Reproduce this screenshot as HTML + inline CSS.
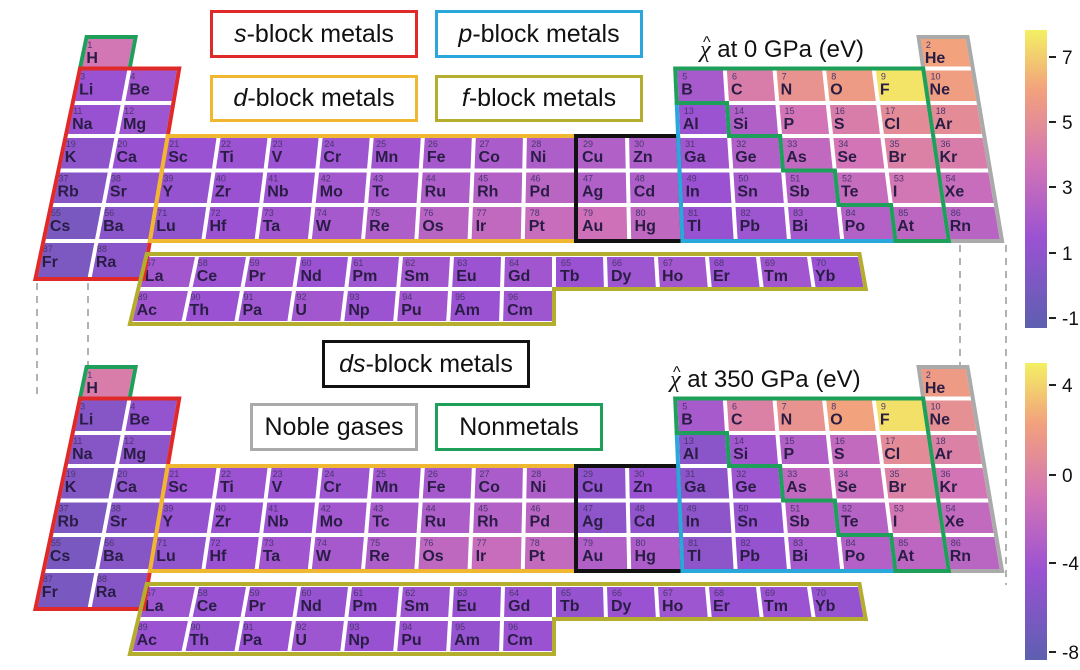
<!DOCTYPE html>
<html><head><meta charset="utf-8">
<style>
body{margin:0;background:#fff;width:1080px;height:670px;overflow:hidden;font-family:"Liberation Sans",sans-serif;}
.lg{position:absolute;box-sizing:border-box;border:3px solid;background:#fff;font-size:25px;color:#111;display:flex;align-items:center;justify-content:center;white-space:nowrap;}
.lg i{font-style:italic}
svg{position:absolute;left:0;top:0}
</style></head><body>
<svg id="s" width="1080" height="670" xmlns="http://www.w3.org/2000/svg"></svg>
<div class="lg" style="left:210px;top:10px;width:208px;height:48px;border-color:#e02a2a"><span><i>s</i>-block metals</span></div>
<div class="lg" style="left:435px;top:10px;width:208px;height:48px;border-color:#2aa8dc"><span><i>p</i>-block metals</span></div>
<div class="lg" style="left:210px;top:75px;width:208px;height:47px;border-color:#f0b830"><span><i>d</i>-block metals</span></div>
<div class="lg" style="left:435px;top:75px;width:208px;height:47px;border-color:#b4ad2e"><span><i>f</i>-block metals</span></div>
<div class="lg" style="left:322px;top:340px;width:208px;height:48px;border-color:#111"><span><i>ds</i>-block metals</span></div>
<div class="lg" style="left:250px;top:403px;width:168px;height:48px;border-color:#aaa"><span>Noble gases</span></div>
<div class="lg" style="left:435px;top:403px;width:168px;height:48px;border-color:#1fa05a"><span>Nonmetals</span></div>
<script>
const S=document.getElementById('s');let h='';
h+='<defs><linearGradient id="cb" x1="0" y1="1" x2="0" y2="0"><stop offset="0" stop-color="#5d5fb0"/><stop offset="0.3" stop-color="#9a52d2"/><stop offset="0.55" stop-color="#d274b6"/><stop offset="0.8" stop-color="#f2a27c"/><stop offset="1" stop-color="#f3f064"/></linearGradient></defs>';
const stops=[[0,[93,95,176]],[0.3,[154,82,210]],[0.55,[210,116,182]],[0.8,[242,162,124]],[1,[243,240,100]]];
function col(v){for(let i=0;i<stops.length-1;i++){const a=stops[i],b=stops[i+1];if(v<=b[0]){const t=(v-a[0])/(b[0]-a[0]);return 'rgb('+a[1].map((x,j)=>Math.round(x+(b[1][j]-x)*t)).join(',')+')';}}return 'rgb(243,240,100)';}
const main=[
[1,1,1,'H'],[2,1,18,'He'],
[3,2,1,'Li'],[4,2,2,'Be'],[5,2,13,'B'],[6,2,14,'C'],[7,2,15,'N'],[8,2,16,'O'],[9,2,17,'F'],[10,2,18,'Ne'],
[11,3,1,'Na'],[12,3,2,'Mg'],[13,3,13,'Al'],[14,3,14,'Si'],[15,3,15,'P'],[16,3,16,'S'],[17,3,17,'Cl'],[18,3,18,'Ar'],
[19,4,1,'K'],[20,4,2,'Ca'],[21,4,3,'Sc'],[22,4,4,'Ti'],[23,4,5,'V'],[24,4,6,'Cr'],[25,4,7,'Mn'],[26,4,8,'Fe'],[27,4,9,'Co'],[28,4,10,'Ni'],[29,4,11,'Cu'],[30,4,12,'Zn'],[31,4,13,'Ga'],[32,4,14,'Ge'],[33,4,15,'As'],[34,4,16,'Se'],[35,4,17,'Br'],[36,4,18,'Kr'],
[37,5,1,'Rb'],[38,5,2,'Sr'],[39,5,3,'Y'],[40,5,4,'Zr'],[41,5,5,'Nb'],[42,5,6,'Mo'],[43,5,7,'Tc'],[44,5,8,'Ru'],[45,5,9,'Rh'],[46,5,10,'Pd'],[47,5,11,'Ag'],[48,5,12,'Cd'],[49,5,13,'In'],[50,5,14,'Sn'],[51,5,15,'Sb'],[52,5,16,'Te'],[53,5,17,'I'],[54,5,18,'Xe'],
[55,6,1,'Cs'],[56,6,2,'Ba'],[71,6,3,'Lu'],[72,6,4,'Hf'],[73,6,5,'Ta'],[74,6,6,'W'],[75,6,7,'Re'],[76,6,8,'Os'],[77,6,9,'Ir'],[78,6,10,'Pt'],[79,6,11,'Au'],[80,6,12,'Hg'],[81,6,13,'Tl'],[82,6,14,'Pb'],[83,6,15,'Bi'],[84,6,16,'Po'],[85,6,17,'At'],[86,6,18,'Rn'],
[87,7,1,'Fr'],[88,7,2,'Ra']];
const v0={H:.56,He:.8,Li:.3,Be:.33,B:.36,C:.6,N:.72,O:.76,F:.97,Ne:.78,Na:.29,Mg:.32,Al:.31,Si:.4,P:.55,S:.6,Cl:.68,Ar:.68,K:.24,Ca:.29,Sc:.3,Ti:.31,V:.31,Cr:.32,Mn:.33,Fe:.35,Co:.37,Ni:.39,Cu:.4,Zn:.39,Ga:.33,Ge:.4,As:.47,Se:.55,Br:.62,Kr:.6,Rb:.2,Sr:.26,Y:.28,Zr:.3,Nb:.31,Mo:.34,Tc:.36,Ru:.39,Rh:.41,Pd:.44,Ag:.4,Cd:.39,In:.3,Sn:.35,Sb:.41,Te:.49,I:.56,Xe:.5,Cs:.14,Ba:.22,Lu:.25,Hf:.3,Ta:.33,W:.35,Re:.39,Os:.43,Ir:.47,Pt:.5,Au:.53,Hg:.46,Tl:.29,Pb:.32,Bi:.35,Po:.41,At:.45,Rn:.43,Fr:.15,Ra:.22};
const v1=Object.assign({},v0,{H:.6,Li:.2,Be:.27,Na:.2,Mg:.24,K:.18,Ca:.24,Rb:.16,Sr:.22,Cs:.14,Ba:.2,Fr:.14,Ra:.2,Cu:.26,Zn:.3,Ag:.24,Cd:.26,Au:.4,Hg:.38,Al:.22,Ga:.24,In:.24,Tl:.24,Pb:.28,Sn:.28,Ge:.32,Si:.34,P:.4,Se:.5,S:.48,Te:.42,Os:.46,Ir:.5,Pt:.48,C:.62,N:.72,O:.8,F:.96,Ne:.7,He:.76,Ar:.62,Kr:.55,Xe:.48,Rn:.44});
const B=[37,68.5,103,136,170.5,205,241,279];
function X(k,y){const t=(y-40)/34;return 88-t*7.2+(k-1)*(49+t*0.72)-2;}
function FX(i,y){return 148-(y-257)*0.24+i*(51+(y-257)*0.03)-2;}
const fl=[[57,'La'],[58,'Ce'],[59,'Pr'],[60,'Nd'],[61,'Pm'],[62,'Sm'],[63,'Eu'],[64,'Gd'],[65,'Tb'],[66,'Dy'],[67,'Ho'],[68,'Er'],[69,'Tm'],[70,'Yb']];
const al=[[89,'Ac'],[90,'Th'],[91,'Pa'],[92,'U'],[93,'Np'],[94,'Pu'],[95,'Am'],[96,'Cm']];
function cell(pts,fill,n,s,dy){h+='<polygon points="'+pts.map(p=>p[0].toFixed(1)+','+(p[1]+dy).toFixed(1)).join(' ')+'" fill="'+fill+'"/>';
const x=Math.min(pts[0][0],pts[3][0])+4,y=pts[0][1]+dy;
h+='<text x="'+(x+1)+'" y="'+(y+9)+'" font-size="9" fill="#4a3570" font-family="Liberation Sans">'+n+'</text>';
h+='<text x="'+x+'" y="'+(y+24)+'" font-size="16" font-weight="bold" fill="#2a1d45" font-family="Liberation Sans">'+s+'</text>';}
function poly(list,color,dy){h+='<polygon points="'+list.map(p=>{const y=B[p[1]];return X(p[0],y).toFixed(1)+','+(y+dy).toFixed(1)}).join(' ')+'" fill="none" stroke="'+color+'" stroke-width="4" stroke-linejoin="miter"/>';}
function table(dy,vals){
 for(const [n,r,c,s] of main){const yt=B[r-1]+2,yb=B[r]-2;
  cell([[X(c,yt)+2,yt],[X(c+1,yt)-2,yt],[X(c+1,yb)-2,yb],[X(c,yb)+2,yb]],col(vals[s]),n,s,dy);}
 const fr=[[255,289,fl],[289,323,al]];
 fr.forEach(([a,b,arr])=>{arr.forEach(([n,s],i)=>{const yt=a+2,yb=b-2;
  cell([[FX(i,yt)+2,yt],[FX(i+1,yt)-2,yt],[FX(i+1,yb)-2,yb],[FX(i,yb)+2,yb]],col(0.3+((n*7)%5)*0.01-(dy?0.02:0)),n,s,dy);});});
 poly([[1,0],[2,0],[2,1],[1,1]],'#1fa05a',dy);
 poly([[1,1],[3,1],[3,7],[1,7]],'#e02a2a',dy);
 poly([[3,3],[11,3],[11,6],[3,6]],'#f0b830',dy);
 poly([[11,3],[13,3],[13,6],[11,6]],'#111',dy);
 poly([[18,0],[19,0],[19,6],[18,6]],'#aaa',dy);
 poly([[13,2],[14,2],[14,3],[15,3],[15,4],[16,4],[16,5],[17,5],[17,6],[13,6]],'#2aa8dc',dy);
 poly([[13,1],[18,1],[18,6],[17,6],[17,5],[16,5],[16,4],[15,4],[15,3],[14,3],[14,2],[13,2]],'#1fa05a',dy);
 h+='<polygon points="'+[[0,254],[14,254],[14,289],[8,289],[8,324],[0,324]].map(p=>FX(p[0],p[1]).toFixed(1)+','+(p[1]+dy)).join(' ')+'" fill="none" stroke="#b4ad2e" stroke-width="4"/>';
}
h+='<g stroke="#999" stroke-width="1.5" stroke-dasharray="7,6" fill="none"><line x1="37" y1="283" x2="37" y2="398"/><line x1="88" y1="283" x2="88" y2="398"/><line x1="960" y1="245" x2="960" y2="368"/><line x1="1006" y1="245" x2="1006" y2="585"/></g>';
table(0,v0);table(330,v1);
function title(x,y,t){h+='<text x="'+x+'" y="'+y+'" font-size="24" fill="#111" font-family="Liberation Sans"><tspan font-family="Liberation Serif" font-style="italic">χ</tspan> '+t+'</text><text x="'+(x+3)+'" y="'+(y-10)+'" font-size="16" fill="#111" font-family="Liberation Sans">^</text>';}
title(700,57,'at 0 GPa (eV)');title(670,387,'at 350 GPa (eV)');
function cbar(y0,y1,ticks){h+='<rect x="1025" y="'+y0+'" width="22" height="'+(y1-y0)+'" fill="url(#cb)"/>';
 for(const [v,y] of ticks){h+='<line x1="1049" y1="'+y+'" x2="1056" y2="'+y+'" stroke="#222" stroke-width="2"/><text x="1062" y="'+(y+7)+'" font-size="19" fill="#111" font-family="Liberation Sans">'+v+'</text>';}}
cbar(30,328,[['7',57],['5',122],['3',187],['1',253],['-1',318]]);
cbar(363,660,[['4',385],['0',475],['-4',563],['-8',652]]);
S.innerHTML=h;
</script>
</body></html>
